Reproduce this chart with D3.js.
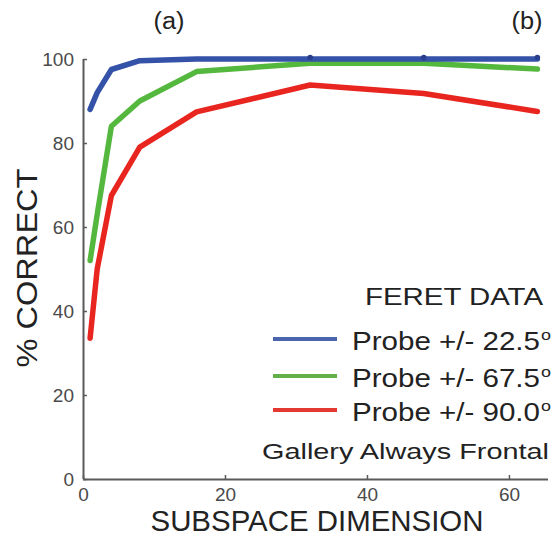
<!DOCTYPE html>
<html>
<head>
<meta charset="utf-8">
<script src="https://cdn.jsdelivr.net/npm/d3@7"></script>
<style>
  html, body { margin: 0; padding: 0; background: #fff; }
  svg { display: block; }
  text { font-family: "Liberation Sans", Arial, sans-serif; }
</style>
</head>
<body>
<div id="chart"></div>
<script>
// Subspace dimension on the x axis, recognition rate (%) per probe pose
const dims = [1, 2, 4, 8, 16, 32, 48, 64];
const probe22 = [88, 92, 97.5, 99.6, 100, 100, 100, 100];
const probe67 = [52, 63, 84, 90, 97, 99, 99, 97.6];
const probe90 = [33.5, 50, 67.5, 79, 87.4, 93.8, 91.8, 87.5];
const markedDims = [32, 48, 64];

const xTicks = [0, 20, 40, 60];
const yTicks = [0, 20, 40, 60, 80, 100];

const seriesNames = ["Probe +/- 22.5", "Probe +/- 67.5", "Probe +/- 90.0"];
const seriesColors = ["#3452a8", "#55b83e", "#e8261f"];
const legendColors = ["#4a64ad", "#62b04c", "#e23a32"];

const W = 557, H = 541;
const svg = d3.select("#chart").append("svg")
  .attr("width", W).attr("height", H);

const x = d3.scaleLinear().domain([0, 65.5]).range([83, 548]);
const y = d3.scaleLinear().domain([0, 100]).range([479, 59]);

// axes with short inward ticks
const xAxis = d3.axisBottom(x).tickValues(xTicks).tickSize(-4).tickPadding(9);
const yAxis = d3.axisLeft(y).tickValues(yTicks).tickSize(-4).tickPadding(9);

const gx = svg.append("g").attr("transform", `translate(0,${y(0)})`).call(xAxis);
const gy = svg.append("g").attr("transform", `translate(${x(0)},0)`).call(yAxis);

[gx, gy].forEach(g => {
  g.select(".domain").attr("stroke", "#5a5a5a").attr("stroke-width", 2);
  g.selectAll(".tick line").attr("stroke", "#5a5a5a").attr("stroke-width", 1.5);
  g.selectAll(".tick text")
    .attr("fill", "#4a4a4a")
    .style("font-size", "19px")
    .style("font-family", "'Liberation Sans', Arial, sans-serif");
});
// flat axis ends (no outer tick hooks)
gx.select(".domain").attr("d", `M${x(0)},0.5H${x(65.5)}`);
gy.select(".domain").attr("d", `M0.5,${y(0)}V${y(100)}`);

// data lines
const series = [probe22, probe67, probe90];
const line = d3.line()
  .x((d, i) => x(dims[i]))
  .y(d => y(d));

// draw red, green, then blue so blue sits on top
[2, 1, 0].forEach(k => {
  svg.append("path")
    .datum(series[k])
    .attr("d", line)
    .attr("fill", "none")
    .attr("stroke", seriesColors[k])
    .attr("stroke-width", 5.5)
    .attr("stroke-linejoin", "round")
    .attr("stroke-linecap", "round");
});

// small point markers on the 22.5 curve
svg.selectAll("circle.mark")
  .data(markedDims)
  .enter().append("circle")
  .attr("class", "mark")
  .attr("cx", d => x(d))
  .attr("cy", d => y(probe22[dims.indexOf(d)]) - 1.5)
  .attr("r", 2.8)
  .attr("fill", "#2a3f8c");

// helper for stretched text
function label(txt, xPos, yPos, size, len, anchor, fill) {
  const t = svg.append("text")
    .attr("x", xPos).attr("y", yPos)
    .style("font-size", size + "px")
    .attr("fill", fill || "#222")
    .attr("text-anchor", anchor || "start")
    .text(txt);
  if (len) t.attr("textLength", len).attr("lengthAdjust", "spacingAndGlyphs");
  return t;
}

// panel labels
label("(a)", 169, 29, 23, 31, "middle");
label("(b)", 527, 29, 23, 31, "middle");

// axis titles
label("SUBSPACE DIMENSION", 317, 531, 29.5, 333, "middle");
svg.append("text")
  .attr("transform", `translate(37,268) rotate(-90)`)
  .attr("text-anchor", "middle")
  .style("font-size", "30px")
  .attr("fill", "#222")
  .attr("textLength", 199)
  .attr("lengthAdjust", "spacingAndGlyphs")
  .text("% CORRECT");

// legend
label("FERET DATA", 365, 305, 23.5, 178);
const legendRows = [339, 376, 410];
seriesNames.forEach((name, i) => {
  const ly = legendRows[i];
  svg.append("line")
    .attr("x1", 273).attr("x2", 337)
    .attr("y1", ly).attr("y2", ly)
    .attr("stroke", legendColors[i])
    .attr("stroke-width", 4);
  label(name, 352, ly + 11, 25, 188);
  label("o", 541, ly + 1, 14, 10);
});
label("Gallery Always Frontal", 262, 459, 22.5, 287);
</script>
</body>
</html>
